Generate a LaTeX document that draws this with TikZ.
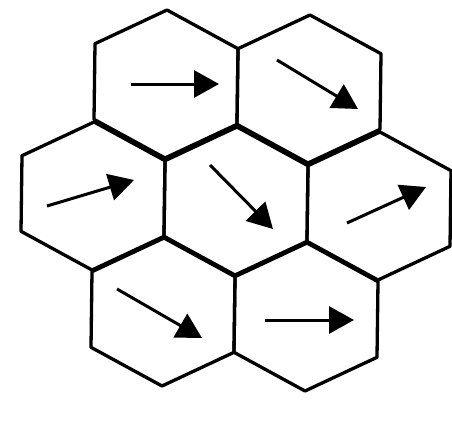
\documentclass[tikz,border=0pt]{standalone}
\usepackage{tikz}
\usetikzlibrary{arrows.meta}

\begin{document}
\begin{tikzpicture}[x=1pt, y=-1pt, line join=round,
  cell/.style={draw, line width=3.3pt},
  flow/.style={line width=3pt, -{Triangle[length=25pt, width=27pt]}}]

\useasboundingbox (0,0) rectangle (452,423);

% Cells
\foreach \cx/\cy in {166/84, 309/89, 93/196, 236/201, 379/206, 163/312, 306/317}{
  \draw[cell] (\cx+1,\cy-74) -- (\cx+72,\cy-35.3) -- (\cx+71,\cy+40.3)
    -- (\cx-1,\cy+74) -- (\cx-72,\cy+35.3) -- (\cx-71,\cy-40.3) -- cycle;
}

% Arrow ends
\coordinate (a0) at (131,84);  \coordinate (a1) at (219,84);
\coordinate (b0) at (277,60);  \coordinate (b1) at (358,109);
\coordinate (c0) at (47,206);  \coordinate (c1) at (134,180);
\coordinate (d0) at (210,165); \coordinate (d1) at (273,229);
\coordinate (e0) at (347,223); \coordinate (e1) at (426,187);
\coordinate (f0) at (117,289); \coordinate (f1) at (202,338);
\coordinate (g0) at (265,320); \coordinate (g1) at (354,320);

% Arrows
\draw[flow] (a0) -- (a1);
\draw[flow] (b0) -- (b1);
\draw[flow] (c0) -- (c1);
\draw[flow] (d0) -- (d1);
\draw[flow] (e0) -- (e1);
\draw[flow] (f0) -- (f1);
\draw[flow] (g0) -- (g1);

\end{tikzpicture}
\end{document}
